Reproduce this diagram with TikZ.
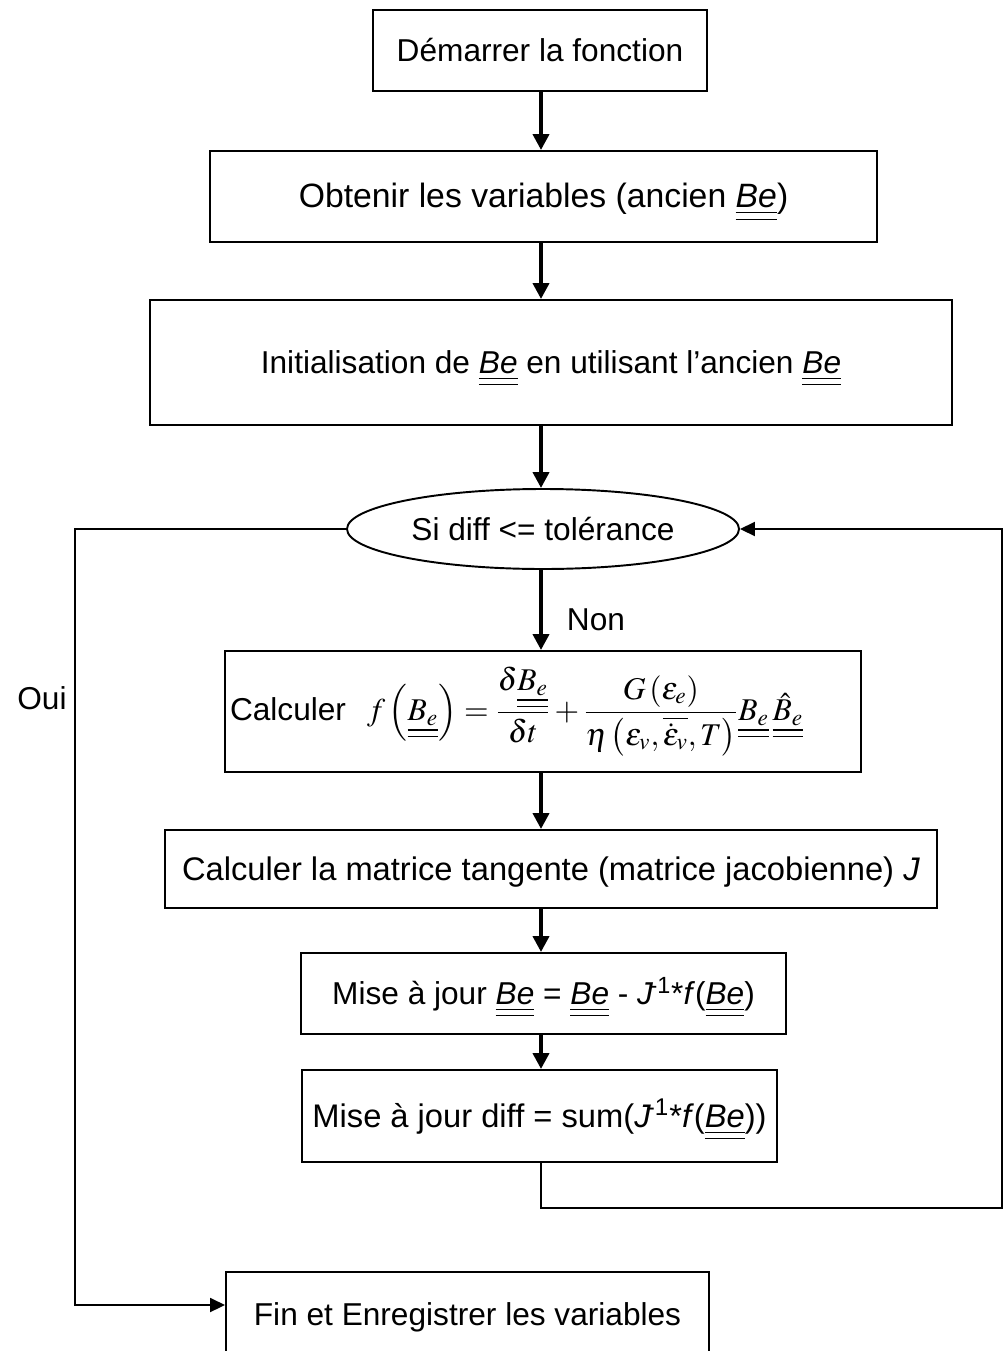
\documentclass[tikz,border=0pt]{standalone}
\usepackage{mathptmx}
\usepackage[no-math]{fontspec}
\setmainfont{Liberation Sans}
\usetikzlibrary{arrows.meta,shapes.geometric}

\newcommand{\dul}[1]{\underline{\underline{#1}}}
\newcommand{\Be}{\dul{\textit{Be}}}
\newcommand{\Jinv}{\textit{J}\kern-0.12em\textsuperscript{-1}}

\begin{document}
\begin{tikzpicture}[line width=1.1pt,
  every node/.style={font=\fontsize{18}{22}\selectfont},
  box/.style={draw,rectangle,inner sep=0pt},
  plain/.style={box,text height=0.5cm,text depth=0.05cm},
  test/.style={draw,ellipse,inner sep=0pt,minimum width=7.84cm,minimum height=1.6cm},
  flow/.style={line width=2.2pt,-{Triangle[length=0.32cm,width=0.32cm]}},
  back/.style={line width=1.1pt,-{Triangle[length=0.3cm,width=0.28cm]}}]
\useasboundingbox (0,0) rectangle (20.06,-27.02);
\coordinate (spine) at (10.82,0);
% boxes
\node[plain,minimum width=6.68cm,minimum height=1.62cm] (start) at (10.80,-1.01) {Démarrer la fonction};
\node[plain,minimum width=13.34cm,minimum height=1.82cm,font=\fontsize{19.2}{23}\selectfont] (vars) at (10.87,-3.93) {Obtenir les variables (ancien \Be)};
\node[plain,minimum width=16.04cm,minimum height=2.50cm] (init) at (11.02,-7.25) {Initialisation de \Be{} en utilisant l’ancien \Be};
\node[test,text height=0.5cm,text depth=0.05cm] (test) at (10.86,-10.58) {Si diff <= tolérance};
\node[box,minimum width=12.72cm,minimum height=2.42cm,text width=12.52cm,align=left] (calc) at (10.86,-14.23)
  {Calculer \ $\displaystyle f\left(\dul{B_e}\right)=\frac{\delta\dul{B_e}}{\delta t}+\frac{G\left(\varepsilon_e\right)}{\eta\left(\varepsilon_v,\overline{\dot{\varepsilon}_v},T\right)}\dul{B_e}\,\dul{\hat{B}_e}$};
\node[plain,minimum width=15.44cm,minimum height=1.56cm,font=\fontsize{18.6}{22}\selectfont] (jac) at (11.02,-17.38) {Calculer la matrice tangente (matrice jacobienne) \textit{J}};
\node[plain,minimum width=9.70cm,minimum height=1.62cm] (upd) at (10.87,-19.87) {Mise à jour \Be{} = \Be{} - \Jinv*\textit{f}(\Be)};
\node[plain,minimum width=9.50cm,minimum height=1.84cm,font=\fontsize{18.6}{22}\selectfont] (diff) at (10.79,-22.32) {Mise à jour diff = sum(\Jinv*\textit{f}(\Be))};
\node[plain,minimum width=9.66cm,minimum height=1.70cm] (stop) at (9.35,-26.29) {Fin et Enregistrer les variables};
% labels
\node (non) at (11.92,-12.40) {Non};
\node (oui) at (0.84,-13.96) {Oui};
% main flow
\foreach \a/\b in {start/vars,vars/init,init/test,test/calc,calc/jac,jac/upd,upd/diff}
  \draw[flow] (\a.south -| spine) -- (\b.north -| spine);
% loop back
\coordinate (loopR) at (20.04,-24.16);
\draw[back] (diff.south -| spine) |- (loopR) |- (test.east);
% exit
\coordinate (ouiL) at (1.50,-26.10);
\draw[back] (test.west) -| (ouiL) -- (ouiL -| stop.west);
\end{tikzpicture}
\end{document}
